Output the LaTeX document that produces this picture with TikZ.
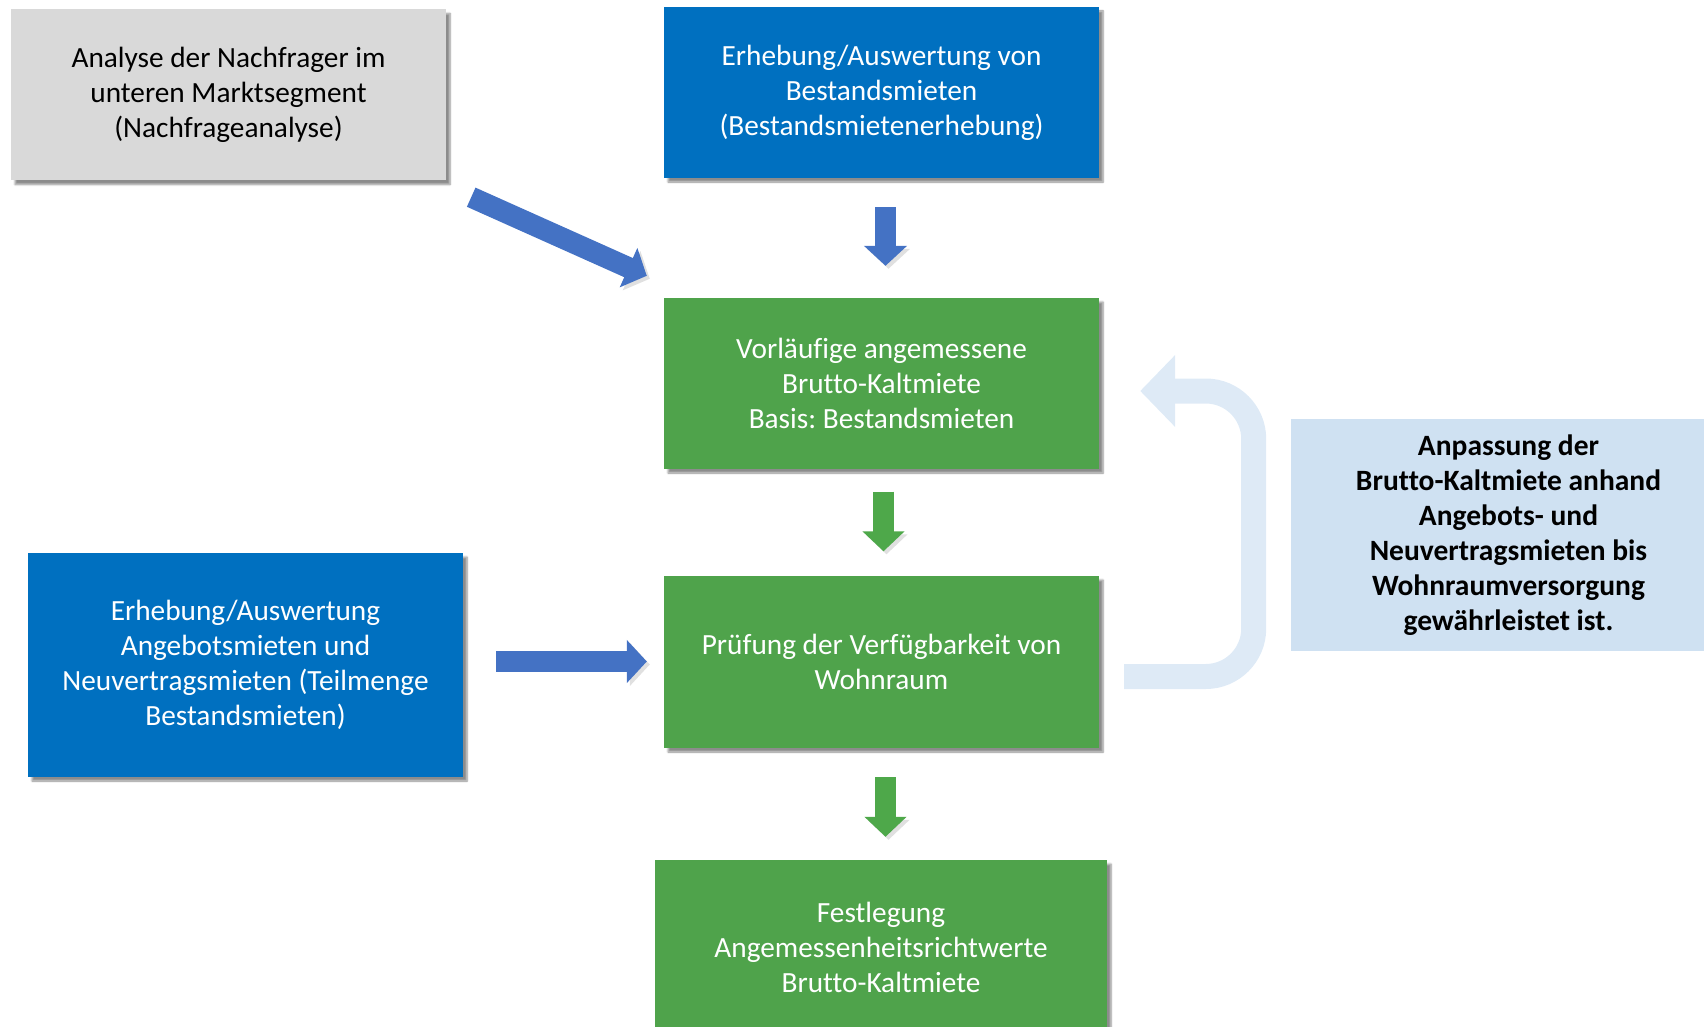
\documentclass[tikz,border=0pt]{standalone}
\usepackage{fontspec}
\setmainfont[Ligatures=NoCommon]{Carlito}
\usepackage{tikz}
\usetikzlibrary{arrows.meta,shadows.blur}
\frenchspacing

\definecolor{boxgray}{HTML}{D9D9D9}
\definecolor{boxblue}{HTML}{0070C0}
\definecolor{boxgreen}{HTML}{4FA34B}
\definecolor{boxlight}{HTML}{CFE1F2}
\definecolor{arrowblue}{HTML}{4472C4}
\definecolor{arrowgreen}{HTML}{4EA84A}
\definecolor{arrowlight}{HTML}{DEEAF6}

\begin{document}
\begin{tikzpicture}[
  x=1pt,y=-1pt,
  font=\fontsize{29.3}{35}\selectfont,
  box/.style={align=center,minimum width=435pt,minimum height=171pt,inner sep=0pt,
    blur shadow={shadow xshift=4pt,shadow yshift=-4pt,shadow blur steps=6,shadow opacity=45}},
  graybox/.style={box,fill=boxgray,text=black},
  bluebox/.style={box,fill=boxblue,text=white},
  greenbox/.style={box,fill=boxgreen,text=white},
  blockarrow/.style={line width=21pt,
    preaction={draw=black!12,transform canvas={shift={(3pt,-3pt)}}}},
  bluearrow/.style={blockarrow,arrowblue,-{Triangle[width=42pt,length=20pt]}},
  greenarrow/.style={blockarrow,arrowgreen,-{Triangle[width=41pt,length=20pt]}},
  backarrow/.style={line width=25pt,arrowlight,rounded corners=48pt,-{Triangle[width=70pt,length=35pt]}}
]
\useasboundingbox (0,0) rectangle (1704,1027);
\begin{scope}
\clip (0,0) rectangle (1704,1027);
% boxes
\node[graybox] (nachfrage) at (228.5,95) {Analyse der Nachfrager im\\unteren Marktsegment\\(Nachfrageanalyse)};
\node[bluebox] (bestand) at (881.5,92.5) {Erhebung/Auswertung von\\Bestandsmieten\\(Bestandsmietenerhebung)};
\node[greenbox] (vorlaeufig) at (881.5,383.5) {Vorläufige angemessene\\Brutto-Kaltmiete\\Basis: Bestandsmieten};
\node[greenbox,minimum height=172pt] (pruefung) at (881.5,662) {Prüfung der Verfügbarkeit von\\Wohnraum};
\node[greenbox,minimum width=452pt,minimum height=174pt] (festlegung) at (881,947) {Festlegung\\Angemessenheitsrichtwerte\\Brutto-Kaltmiete};
\node[bluebox,minimum height=224pt] (angebot) at (245.5,665) {Erhebung/Auswertung\\Angebotsmieten und\\Neuvertragsmieten (Teilmenge\\Bestandsmieten)};
\node[box,blur shadow={shadow opacity=0},fill=boxlight,minimum height=232pt,font=\fontsize{29.5}{35}\selectfont\bfseries] (anpassung) at (1508.5,535) {Anpassung der\\Brutto-Kaltmiete anhand\\Angebots- und\\Neuvertragsmieten bis\\Wohnraumversorgung\\gewährleistet ist.};
\end{scope}
% arrows
\draw[bluearrow] ([shift={(25,16.5)}]nachfrage.south east) -- ([shift={(-17,-22)}]vorlaeufig.north west);
\draw[bluearrow] ([shift={(4,29)}]bestand.south) -- ([shift={(4,-32)}]vorlaeufig.north);
\draw[greenarrow] ([shift={(2,22.5)}]vorlaeufig.south) -- ([shift={(2,-24.5)}]pruefung.north);
\draw[greenarrow] ([shift={(4,29)}]pruefung.south) -- ([shift={(4.5,-23)}]festlegung.north);
\draw[bluearrow] ([shift={(33,-3.5)}]angebot.east) -- ([shift={(-17,-0.5)}]pruefung.west);
\draw[backarrow] ([shift={(25,14.5)}]pruefung.east) -| ([shift={(154.5,7.5)}]vorlaeufig.east) -- ([shift={(41,7.5)}]vorlaeufig.east);
\end{tikzpicture}
\end{document}
